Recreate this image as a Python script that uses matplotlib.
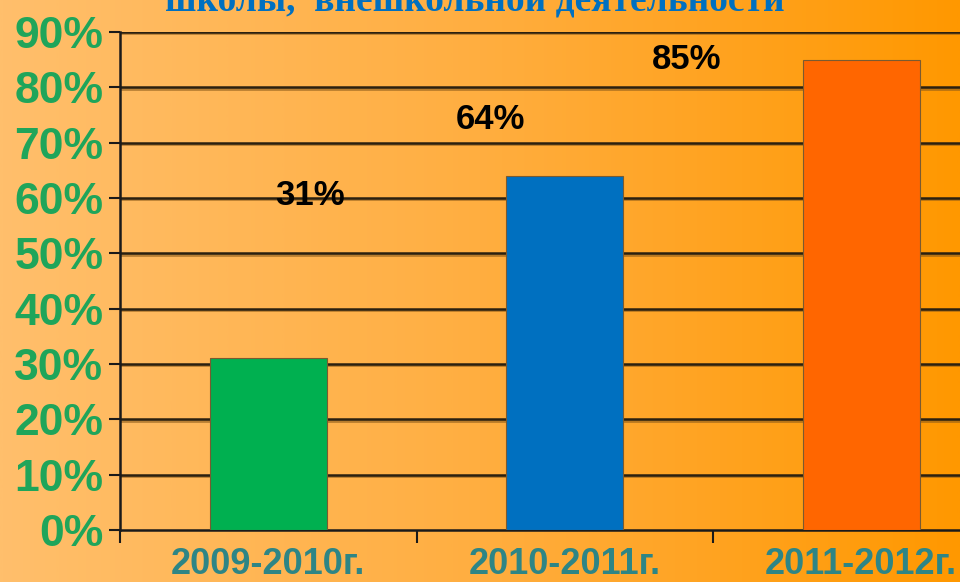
import numpy as np
import matplotlib
matplotlib.use("Agg")
import matplotlib.pyplot as plt
from matplotlib.colors import LinearSegmentedColormap

# Data
categories = ["2009-2010г.", "2010-2011г.", "2011-2012г."]
values = [31, 64, 85]
value_labels = ["31%", "64%", "85%"]
bar_colors = ["#00B050", "#0070C0", "#FF6600"]
yticks = [0, 10, 20, 30, 40, 50, 60, 70, 80, 90]
ytick_labels = [f"{t}%" for t in yticks]
title = "школы,  внешкольной деятельности"

# Layout for value labels (x in category units, y in data units)
label_x = [0.14, 0.75, 1.41]
label_y = [60.5, 74.2, 85.1]

fig = plt.figure(figsize=(9.6, 5.82), dpi=100)

# Background gradient
bg = fig.add_axes([0, 0, 1, 1], zorder=-10)
cmap = LinearSegmentedColormap.from_list("bg", ["#FFBF6C", "#FFAE40", "#FF9800"])
grad = np.linspace(0, 1, 512).reshape(1, -1)
bg.imshow(grad, aspect="auto", cmap=cmap, extent=[0, 1, 0, 1])
bg.set_axis_off()

left = 120 / 960
bottom = 52 / 582
width = (3 * 296.5) / 960
height = 498 / 582
ax = fig.add_axes([left, bottom, width, height])
ax.patch.set_alpha(0)

x = np.arange(len(categories))
ax.bar(x, values, width=0.395, color=bar_colors, edgecolor="#7a5a30",
       linewidth=0.8, zorder=3)

ax.set_xlim(-0.5, len(categories) - 0.5)
ax.set_ylim(0, 90)

# Gridlines with shadow
for t in yticks[1:]:
    ax.axhline(t - 0.25, color="#8a5a1a", linewidth=2.0, alpha=0.6, zorder=1)
    ax.axhline(t, color="#2a2010", linewidth=1.8, zorder=1.5)

ax.set_yticks(yticks)
ax.set_yticklabels(ytick_labels)
ax.tick_params(axis="y", length=8, width=1.5, color="#1a1a1a", pad=4,
               labelsize=32, labelcolor="#1FA55A")
for lab in ax.get_yticklabels():
    lab.set_fontfamily("Liberation Sans")
    lab.set_fontweight("bold")

ax.set_xticks(x)
ax.set_xticklabels(categories)
ax.tick_params(axis="x", length=0, pad=12, labelsize=26, labelcolor="#2E8585")
for lab in ax.get_xticklabels():
    lab.set_fontfamily("Liberation Sans")
    lab.set_fontweight("bold")
# boundary ticks
ax.set_xticks(np.arange(-0.5, len(categories) + 0.5, 1.0), minor=True)
ax.tick_params(axis="x", which="minor", length=9, width=1.5, color="#1a1a1a")

for s in ["top", "right"]:
    ax.spines[s].set_visible(False)
ax.spines["left"].set_color("#1a1a1a")
ax.spines["left"].set_linewidth(1.8)
ax.spines["bottom"].set_color("#1a1a1a")
ax.spines["bottom"].set_linewidth(1.8)

for lx, ly, txt in zip(label_x, label_y, value_labels):
    ax.text(lx, ly, txt, ha="center", va="center", fontsize=25,
            fontweight="bold", family="Liberation Sans", color="black", zorder=5)

fig.text(475 / 960, 1 - 12 / 582, title, ha="center", va="baseline",
         fontsize=27, fontweight="bold", family="Liberation Serif",
         color="#0070C0")

fig.savefig("out.png", dpi=100)
